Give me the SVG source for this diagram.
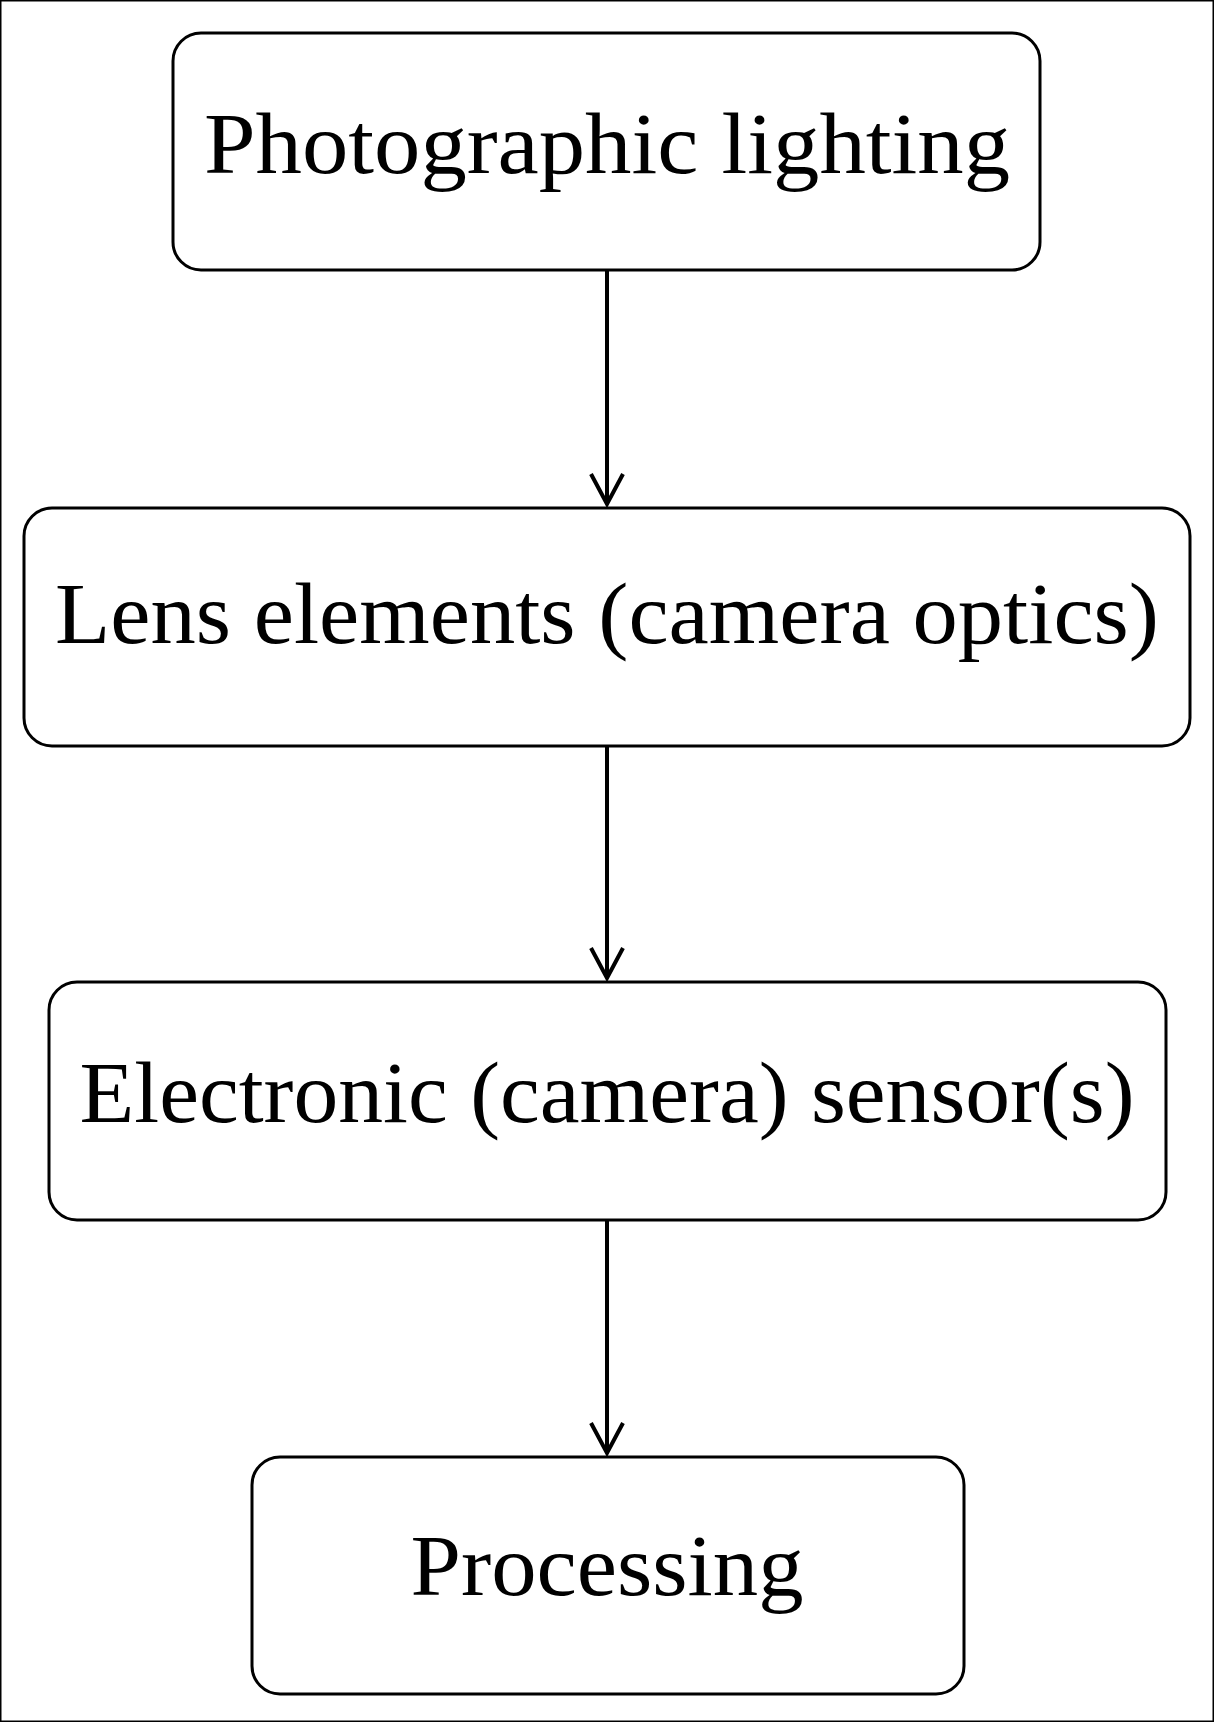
<svg xmlns="http://www.w3.org/2000/svg" width="1214" height="1722" viewBox="0 0 1214 1722">
<style>
rect{fill:#fff;stroke:#000;stroke-width:3}
text{font-family:"Liberation Serif",serif;font-size:86px;text-anchor:middle;fill:#000}
.c{stroke:#000;stroke-width:4;fill:none}
</style>
<defs><marker id="a" markerWidth="12" markerHeight="12" refX="10" refY="6" orient="auto" markerUnits="userSpaceOnUse"><path d="M0,0 L10,6 L0,12" fill="none" stroke="#000" stroke-width="0"/></marker></defs>
<rect width="1214" height="1722" fill="#fff" stroke="none"/>
<g id="n1"><rect x="173" y="33" width="867" height="237" rx="28"/><text x="607" y="173" textLength="806" lengthAdjust="spacingAndGlyphs">Photographic lighting</text></g>
<g id="n2"><rect x="24" y="508" width="1166" height="238" rx="28"/><text x="607" y="643" textLength="1104" lengthAdjust="spacingAndGlyphs">Lens elements (camera optics)</text></g>
<g id="n3"><rect x="49" y="982" width="1117" height="238" rx="28"/><text x="607" y="1122" textLength="1055" lengthAdjust="spacingAndGlyphs">Electronic (camera) sensor(s)</text></g>
<g id="n4"><rect x="252" y="1457" width="712" height="237" rx="28"/><text x="607" y="1595" textLength="393" lengthAdjust="spacingAndGlyphs">Processing</text></g>
<g id="connectors">
<path class="c" d="M607,270 V504 M591,474 L607,504 L623,474"/>
<path class="c" d="M607,746 V978 M591,948 L607,978 L623,948"/>
<path class="c" d="M607,1220 V1453 M591,1423 L607,1453 L623,1423"/>
</g>
</svg>
